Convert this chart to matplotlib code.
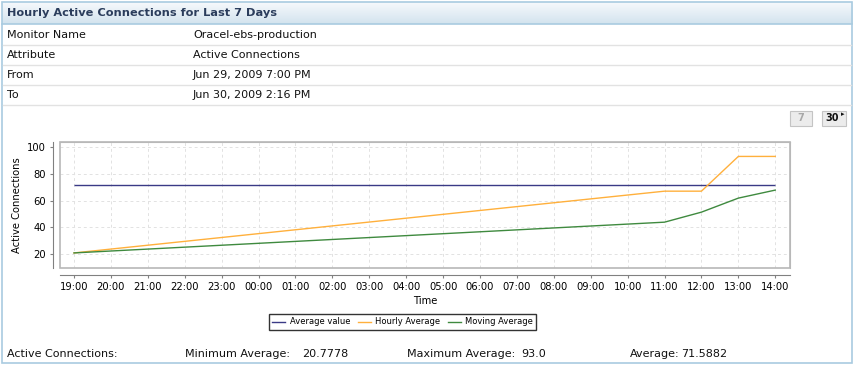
import matplotlib
matplotlib.use("Agg")
import matplotlib.pyplot as plt
import numpy as np
from matplotlib.patches import Rectangle
from matplotlib.lines import Line2D

W, H = 855, 367

# ---- data ----
hours = ["19:00", "20:00", "21:00", "22:00", "23:00", "00:00", "01:00", "02:00", "03:00", "04:00",
         "05:00", "06:00", "07:00", "08:00", "09:00", "10:00", "11:00", "12:00", "13:00", "14:00"]
avg_value = 71.5882
hourly_x = [0, 16, 17, 18, 19]
hourly_avg = [20.78, 67.0, 67.0, 93.0, 93.0]
moving_x = [0, 16, 17, 18, 19]
moving_avg = [20.78, 43.8, 51.3, 61.8, 67.8]
yticks = [20, 40, 60, 80, 100]

info_keys = ["Monitor Name", "Attribute", "From", "To"]
info_vals = ["Oracel-ebs-production", "Active Connections", "Jun 29, 2009 7:00 PM", "Jun 30, 2009 2:16 PM"]

C_AVG = "#3a3a86"; C_HOUR = "#ffb03c"; C_MOV = "#3f8a3f"
C_BORDER = "#a9cbe0"; C_TITLE = "#2b3d5c"

fig = plt.figure(figsize=(W / 100, H / 100), dpi=100)
fig.patch.set_facecolor("white")

def px(x, y):
    return x / W, 1 - y / H

# ---- panel border + header gradient ----
hax = fig.add_axes([2 / W, 1 - 24 / H, 850 / W, 22 / H])
grad = np.linspace(0, 1, 50)[:, None]
hax.imshow(grad, aspect="auto", cmap=matplotlib.colors.LinearSegmentedColormap.from_list("h", ["#f6f9fc", "#d3e3ee"]),
           extent=[0, 1, 1, 0])
hax.set_axis_off()
fig.text(*px(7, 13), "Hourly Active Connections for Last 7 Days", fontsize=8.2, fontweight="bold",
         color=C_TITLE, va="center", ha="left")
fig.add_artist(Rectangle((2 / W, 1 - 363 / H), 850 / W, 361 / H, transform=fig.transFigure,
                         fill=False, ec=C_BORDER, lw=1.2))
fig.add_artist(Line2D([2 / W, 852 / W], [1 - 24 / H] * 2, transform=fig.transFigure, color=C_BORDER, lw=1.2))

# ---- info table ----
for i, (k, v) in enumerate(zip(info_keys, info_vals)):
    yc = 35 + i * 20
    fig.text(*px(7, yc), k, fontsize=8, va="center", ha="left", color="#111")
    fig.text(*px(193, yc), v, fontsize=8, va="center", ha="left", color="#111")
    fig.add_artist(Line2D([3 / W, 851 / W], [1 - (yc + 10) / H] * 2, transform=fig.transFigure,
                          color="#e2e2e2", lw=1))

# ---- buttons ----
for x0, w0, lab, col, bold in [(790, 22, "7", "#a8a8a8", False), (822, 24, "30", "#111", True)]:
    fig.add_artist(Rectangle((x0 / W, 1 - 126 / H), w0 / W, 15 / H, transform=fig.transFigure,
                             fc="#ececec", ec="#c4c4c4", lw=0.8))
    fig.text(*px(x0 + w0 / 2 - (2 if bold else 0), 118.5), lab, fontsize=7, fontweight="bold",
             color=col, va="center", ha="center")
fig.text(*px(843, 114), "\u25b8", fontsize=5, color="#111", va="center", ha="center")

# ---- chart ----
ax = fig.add_axes([60 / W, 1 - 268 / H, 730 / W, 126 / H])
ax.set_xlim(-0.38, 19.4)
ax.set_ylim(9.5, 103.8)
ax.hlines(avg_value, 0, len(hours) - 1, color=C_AVG, lw=1)
ax.plot(hourly_x, hourly_avg, color=C_HOUR, lw=1)
ax.plot(moving_x, moving_avg, color=C_MOV, lw=1)
ax.set_xticks(range(len(hours)))
ax.set_xticklabels(hours)
ax.set_yticks(yticks)
ax.grid(True, color="#e2e2e2", ls=(0, (3, 3)), lw=0.7)
ax.set_axisbelow(True)
for s in ["top", "right"]:
    ax.spines[s].set_color("#b8b8b8")
for s in ["left", "bottom"]:
    ax.spines[s].set_position(("outward", 5))
    ax.spines[s].set_color("#808080")
ax.add_patch(Rectangle((0, 0), 1, 1, transform=ax.transAxes, fill=False, ec="#b8b8b8", lw=1.2, clip_on=False))
ax.tick_params(labelsize=7.2, length=2, color="#808080", pad=3)
ax.set_xlabel("Time", fontsize=7.2, labelpad=3)
ax.set_ylabel("Active Connections", fontsize=7.2, labelpad=4)

handles = [Line2D([], [], color=c, lw=1) for c in (C_AVG, C_HOUR, C_MOV)]
leg = fig.legend(handles, ["Average value", "Hourly Average", "Moving Average"], loc="center",
                 bbox_to_anchor=px(402.5, 322), ncol=3, fontsize=6.0, frameon=True, fancybox=False,
                 handlelength=1.6, handletextpad=0.5, columnspacing=0.9, borderpad=0.4)
leg.get_frame().set_edgecolor("black")
leg.get_frame().set_linewidth(1)

# ---- summary ----
stats = [(7, "Active Connections:"), (185, "Minimum Average:"), (302, "20.7778"),
         (407, "Maximum Average:"), (521, "93.0"), (630, "Average:"), (681, "71.5882")]
for x0, t in stats:
    fig.text(*px(x0, 354), t, fontsize=8, va="center", ha="left", color="#111")

plt.savefig("out.png", dpi=100)
